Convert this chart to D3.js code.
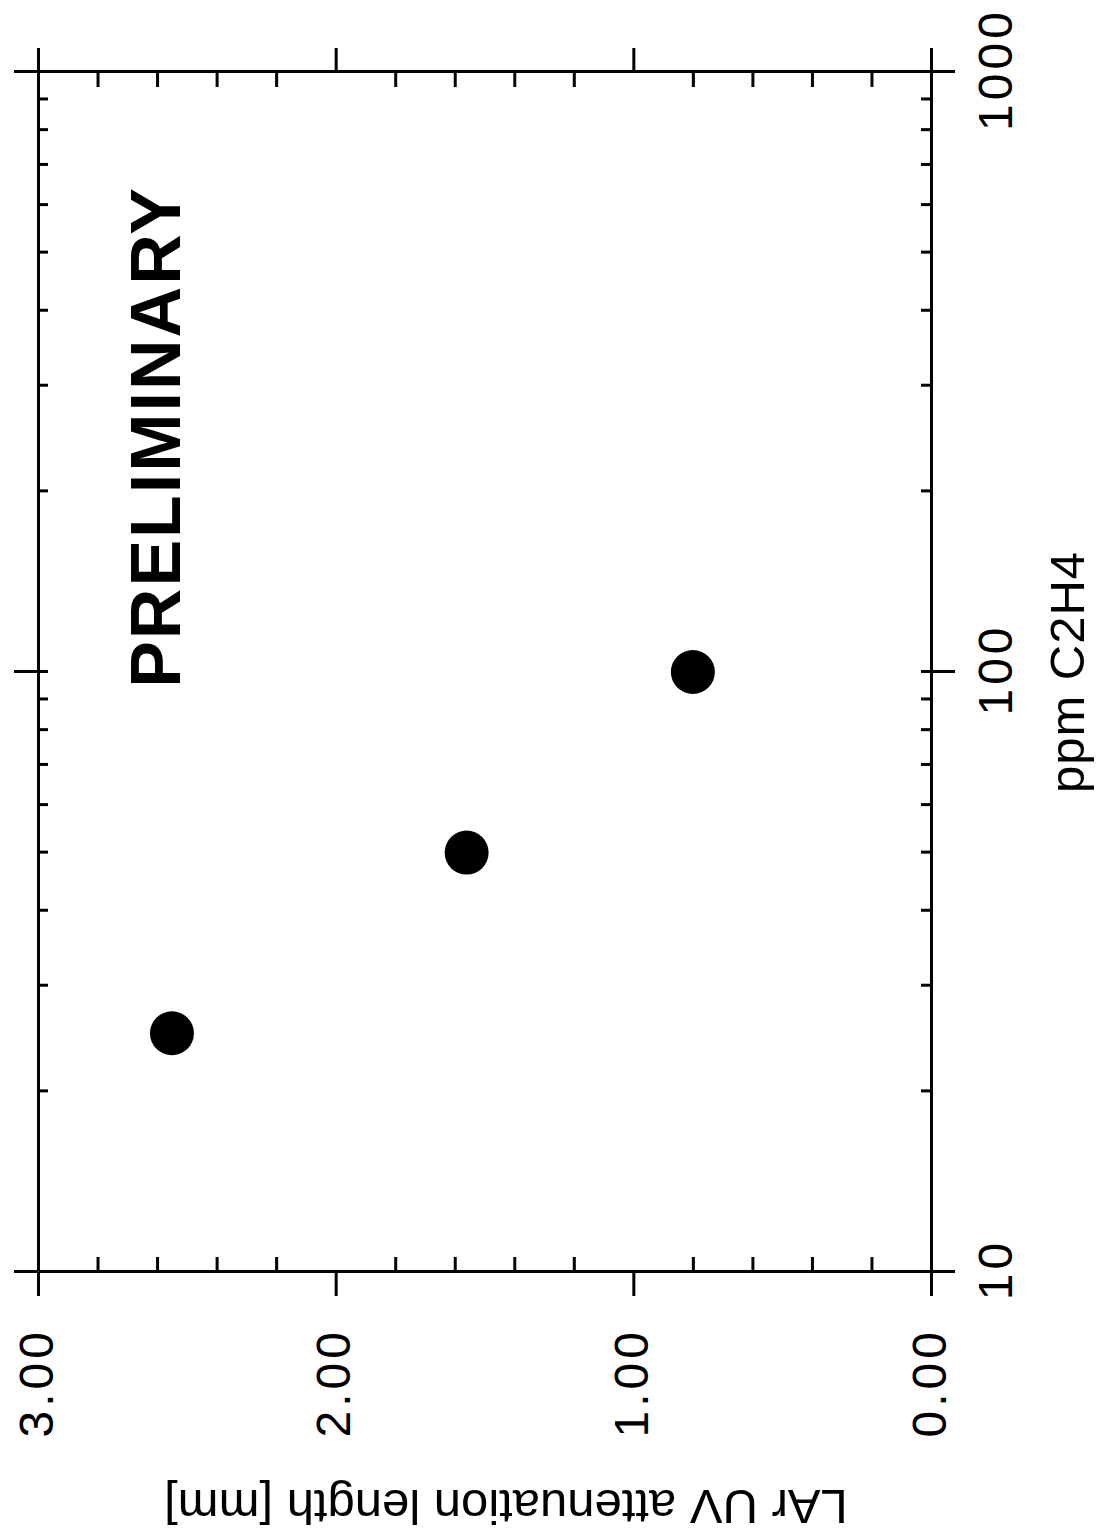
<!DOCTYPE html>
<html>
<head>
<meta charset="utf-8">
<script src="https://cdn.jsdelivr.net/npm/d3@7"></script>
<style>
  html, body { margin: 0; padding: 0; background: #fff; }
</style>
</head>
<body>
<div id="chart"></div>
<script>
const ppmValues = [25, 50, 100];
const attLengths = [2.55, 1.56, 0.8];

// Tick values.
const ppmMajorTicks = [10, 100, 1000];
const ppmMinorTicks = [20, 30, 40, 50, 60, 70, 80, 90, 100,
  200, 300, 400, 500, 600, 700, 800, 900];
const lengthMajorTicks = [0, 1, 2, 3];
const lengthMinorTicks = [0.2, 0.4, 0.6, 0.8, 1.2, 1.4, 1.6, 1.8,
  2.2, 2.4, 2.6, 2.8];

// Texts.
const xAxisTitle = "ppm C2H4";
const yAxisTitle = "LAr UV attenuation length [mm]";
const stamp = "PRELIMINARY";

const pageWidth = 1101;
const pageHeight = 1540;
const font = "'Liberation Sans', Arial, Helvetica, sans-serif";

// Plot size in the unrotated frame.
const plotWidth = 1200;
const plotHeight = 893;
const majorLen = 24;

const svg = d3
  .select("#chart")
  .append("svg")
  .attr("width", pageWidth)
  .attr("height", pageHeight)
  .style("background", "#fff");

// The whole figure is turned a quarter turn counter-clockwise.
const plot = svg
  .append("g")
  .attr("transform", "translate(38,1272) rotate(-90)");

const x = d3.scaleLog().domain([10, 1000]).range([0, plotWidth]);
const y = d3.scaleLinear().domain([0, 3]).range([plotHeight, 0]);

// Helper to style an axis group.
function styleAxis(g) {
  g.attr("stroke-width", 3).attr("color", "#000");
  g.selectAll("text")
    .attr("font-family", font)
    .attr("font-size", 48)
    .attr("fill", "#000")
    .style("letter-spacing", "4px");
}

/**
 * ppm axis (bottom of the unrotated frame).
 */
const xBottom = plot
  .append("g")
  .attr("transform", `translate(0,${plotHeight})`);
xBottom
  .call(
    d3.axisBottom(x)
      .tickValues(ppmMajorTicks)
      .tickSize(majorLen)
      .tickSizeOuter(0)
      .tickFormat(d3.format("d"))
  )
  .call(styleAxis);
xBottom.selectAll(".tick text").attr("y", 81).attr("dy", 0).attr("dx", 2);
xBottom
  .append("g")
  .call(d3.axisTop(x).tickValues(ppmMinorTicks).tickSize(10).tickFormat(""))
  .call(styleAxis)
  .select(".domain")
  .remove();

// Mirrored ppm axis on top.
const xTop = plot.append("g");
xTop
  .call(d3.axisTop(x).tickValues(ppmMajorTicks).tickSize(majorLen).tickSizeOuter(0).tickFormat(""))
  .call(styleAxis);
xTop
  .append("g")
  .call(d3.axisBottom(x).tickValues(ppmMinorTicks).tickSize(10).tickFormat(""))
  .call(styleAxis)
  .select(".domain")
  .remove();

/**
 * Attenuation length axis (left of the unrotated frame).
 */
const yLeft = plot.append("g");
yLeft
  .call(
    d3.axisLeft(y)
      .tickValues(lengthMajorTicks)
      .tickSize(majorLen)
      .tickSizeOuter(0)
      .tickFormat(d3.format(".2f"))
  )
  .call(styleAxis);
yLeft.selectAll(".tick text").attr("x", -56).attr("dy", 14);
yLeft
  .append("g")
  .call(d3.axisRight(y).tickValues(lengthMinorTicks).tickSize(15).tickFormat(""))
  .call(styleAxis)
  .select(".domain")
  .remove();

// Mirrored axis on the right.
const yRight = plot.append("g").attr("transform", `translate(${plotWidth},0)`);
yRight
  .call(d3.axisRight(y).tickValues(lengthMajorTicks).tickSize(majorLen).tickSizeOuter(0).tickFormat(""))
  .call(styleAxis);
yRight
  .append("g")
  .call(d3.axisLeft(y).tickValues(lengthMinorTicks).tickSize(15).tickFormat(""))
  .call(styleAxis)
  .select(".domain")
  .remove();

/**
 * Titles.
 */
plot
  .append("text")
  .attr("x", plotWidth / 2)
  .attr("y", plotHeight + 153)
  .attr("text-anchor", "middle")
  .attr("font-family", font)
  .attr("font-size", 49)
  .style("letter-spacing", "1px")
  .text(xAxisTitle);

plot
  .append("text")
  .attr("transform", "translate(-218,468) rotate(-90)")
  .attr("text-anchor", "middle")
  .attr("font-family", font)
  .attr("font-size", 49)
  .text(yAxisTitle);

plot
  .append("text")
  .attr("x", 835)
  .attr("y", 142)
  .attr("text-anchor", "middle")
  .attr("font-family", font)
  .attr("font-weight", "bold")
  .attr("font-size", 70)
  .style("letter-spacing", "2px")
  .text(stamp);

/**
 * Data points.
 */
const points = ppmValues.map((p, i) => ({ ppm: p, length: attLengths[i] }));
plot
  .selectAll("circle.point")
  .data(points)
  .join("circle")
  .attr("class", "point")
  .attr("cx", (d) => x(d.ppm))
  .attr("cy", (d) => y(d.length))
  .attr("r", 22)
  .attr("fill", "#000");
</script>
</body>
</html>
